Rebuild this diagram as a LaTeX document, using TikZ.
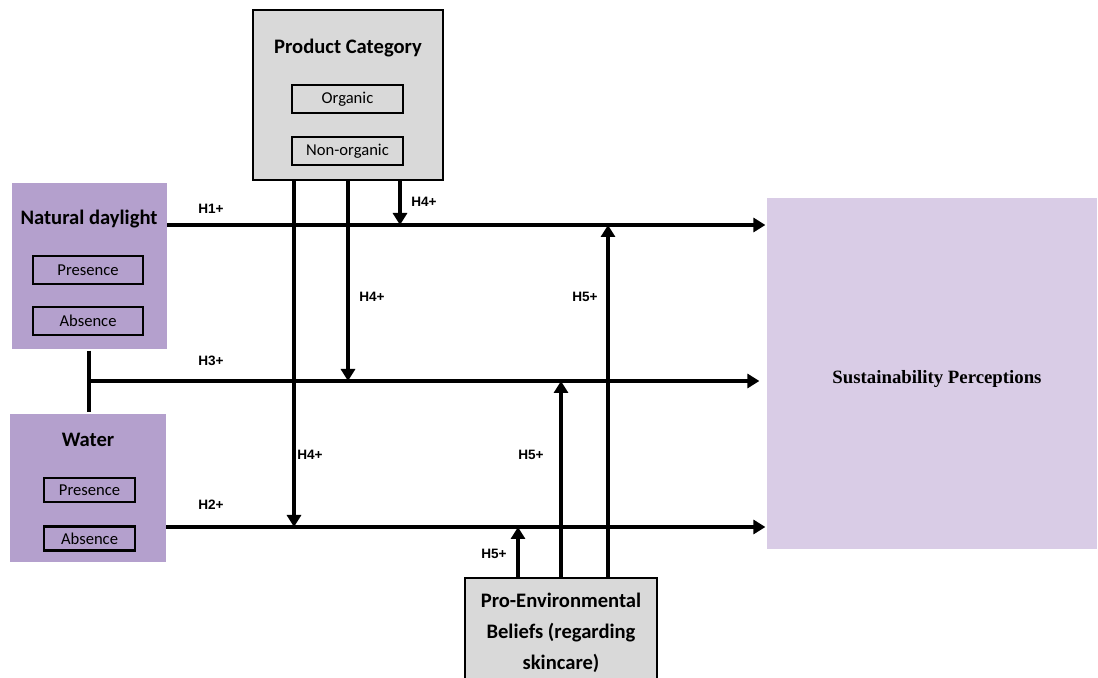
\documentclass[tikz,border=0pt]{standalone}
\usepackage{fontspec}
\setmainfont{Carlito}
\newfontfamily\hfont{Liberation Sans}
\newfontfamily\sfont{Liberation Serif}
\usetikzlibrary{arrows.meta}
\tikzset{>={Triangle[width=7pt,length=6pt]}}
\definecolor{boxgray}{RGB}{217,217,217}
\definecolor{ivpurple}{RGB}{180,160,205}
\definecolor{dvlilac}{RGB}{217,204,230}

\begin{document}
\begin{tikzpicture}[x=0.5pt,y=-0.5pt,line width=1.6pt,
  modbox/.style={draw,fill=boxgray,line width=1pt,inner sep=0pt},
  ivbox/.style={fill=ivpurple,inner sep=0pt},
  lvlbox/.style={draw,line width=1.2pt,inner sep=0pt,minimum height=14pt,font=\fontsize{8.3}{10}\selectfont},
  title/.style={font=\bfseries\fontsize{10.3}{12}\selectfont},
  hyp/.style={font=\hfont\bfseries\fontsize{6.8}{8}\selectfont}]
  \useasboundingbox (0,0) rectangle (1098,678);

  % boxes
  \node[modbox,minimum width=95pt,minimum height=85pt] (prod) at (348,95) {};
  \node[title] (prodT) at (348,48) {Product Category};
  \node[lvlbox,minimum width=55.5pt] (org) at (347.5,99) {Organic};
  \node[lvlbox,minimum width=55.5pt] (nonorg) at (347.5,151) {Non-organic};

  \node[ivbox,minimum width=77.5pt,minimum height=83pt] (day) at (89.5,266) {};
  \node[title] (dayT) at (89,219) {Natural daylight};
  \node[lvlbox,minimum width=55pt] (dayP) at (88,270) {Presence};
  \node[lvlbox,minimum width=55pt] (dayA) at (88,321) {Absence};

  \node[ivbox,minimum width=78pt,minimum height=74pt] (wat) at (88,488) {};
  \node[title] (watT) at (88,440) {Water};
  \node[lvlbox,minimum width=45.5pt,minimum height=12pt] (watP) at (89.5,490) {Presence};
  \node[lvlbox,minimum width=45.5pt,minimum height=12pt] (watA) at (89.5,538.5) {Absence};

  \node[fill=dvlilac,inner sep=0pt,minimum width=165pt,minimum height=175.5pt] (sust) at (932,373.5) {};
  \node[font=\sfont\bfseries\fontsize{9.4}{11}\selectfont] (sustT) at (937,379) {Sustainability Perceptions};

  \node[modbox,minimum width=96pt,minimum height=60pt] (pro) at (561,638) {};
  \node[title,align=center,font=\bfseries\fontsize{10.3}{15.5}\selectfont] (proT) at (561,633)
    {Pro-Environmental\\Beliefs (regarding\\skincare)};

  % main effects
  \coordinate (j) at (89,381);
  \draw (day.south -| j) -- (wat.north -| j);
  \coordinate (h1) at (167,225);
  \coordinate (h2) at (166,527);
  \draw[->] (h1) -- (h1 -| sust.west);
  \draw[->] (j) -- ([xshift=-3pt]sust.west |- j);
  \draw[->] (h2) -- (h2 -| sust.west);

  % moderation
  \draw[->] (prod.south -| 400,0) -- (400,225);
  \draw[->] (prod.south -| 348,0) -- (348,381);
  \draw[->] (prod.south -| 294,0) -- (294,527);
  \draw[->] (pro.north -| 518,0) -- (518,527);
  \draw[->] (pro.north -| 561,0) -- (561,381);
  \draw[->] (pro.north -| 608,0) -- (608,225);

  % labels
  \node[hyp] (lh1) at (211,209) {H1+};
  \node[hyp] (lh3) at (211,361) {H3+};
  \node[hyp] (lh2) at (211,505) {H2+};
  \node[hyp] (lh4a) at (424,202) {H4+};
  \node[hyp] (lh4b) at (372,297) {H4+};
  \node[hyp] (lh4c) at (310,455) {H4+};
  \node[hyp] (lh5a) at (494,554) {H5+};
  \node[hyp] (lh5b) at (531,455) {H5+};
  \node[hyp] (lh5c) at (585,297) {H5+};
\end{tikzpicture}
\end{document}
